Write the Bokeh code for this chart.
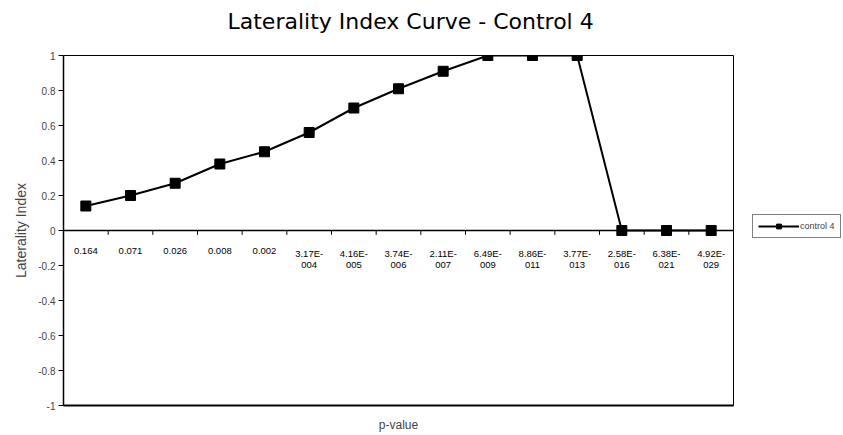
from bokeh.plotting import figure
from bokeh.models import (ColumnDataSource, FixedTicker, Range1d, Legend, LegendItem, Span, Title)
from bokeh.core.properties import value
from bokeh.embed import file_html
from bokeh.resources import INLINE

# ---- data ----
p_values = ["0.164", "0.071", "0.026", "0.008", "0.002",
            "3.17E-\n004", "4.16E-\n005", "3.74E-\n006", "2.11E-\n007", "6.49E-\n009",
            "8.86E-\n011", "3.77E-\n013", "2.58E-\n016", "6.38E-\n021", "4.92E-\n029"]
laterality = [0.14, 0.2, 0.27, 0.38, 0.45, 0.56, 0.7, 0.81, 0.91, 1.0, 1.0, 1.0, 0.0, 0.0, 0.0]
y_ticks = [-1, -0.8, -0.6, -0.4, -0.2, 0, 0.2, 0.4, 0.6, 0.8, 1]
y_tick_labels = ["-1", "-0.8", "-0.6", "-0.4", "-0.2", "0", "0.2", "0.4", "0.6", "0.8", "1"]
series_name = "control 4"
chart_title = "Laterality Index Curve - Control 4"

n = len(p_values)
xs = list(range(n))
src = ColumnDataSource(dict(x=xs, y=laterality, lab=p_values, zero=[0] * n))
bounds = [i - 0.5 for i in range(1, n)]
tick_src = ColumnDataSource(dict(x=bounds, y0=[0] * len(bounds), y1=[-0.025] * len(bounds)))

p = figure(frame_width=670, frame_height=350, output_backend="svg", toolbar_location=None,
           title=None,
           x_range=Range1d(-0.5, n - 0.5), y_range=Range1d(-1, 1),
           min_border_left=63, min_border_right=110, min_border_top=55, min_border_bottom=30)

# spacer panel between the frame and the title
p.add_layout(Title(text=" ", text_font_size="10px", standoff=9, text_color="white"), "above")
p.add_layout(Title(text=chart_title, text_font="DejaVu Sans", text_font_size="22px",
                   text_font_style="normal", align="left", offset=164, standoff=0,
                   text_color="black"), "above")

p.grid.visible = False
p.outline_line_color = "black"
p.outline_line_width = 1
p.background_fill_color = "white"

# y axis
p.yaxis.ticker = FixedTicker(ticks=y_ticks)
p.yaxis.major_label_overrides = {t: l for t, l in zip(y_ticks, y_tick_labels)}
p.yaxis.minor_tick_line_color = None
p.yaxis.major_tick_in = 0
p.yaxis.major_tick_out = 5
p.yaxis.major_label_text_font = "Liberation Sans"
p.yaxis.major_label_text_font_size = "10px"
p.yaxis.major_label_standoff = 3
p.yaxis.axis_label = "Laterality Index"
p.yaxis.axis_label_text_font = "Liberation Sans"
p.yaxis.axis_label_text_font_size = "14px"
p.yaxis.axis_label_text_font_style = "normal"
p.yaxis.axis_label_standoff = 6
p.yaxis.axis_line_color = "black"
p.yaxis.axis_line_width = 1.5

# x axis: only its title
p.xaxis.ticker = FixedTicker(ticks=[])
p.xaxis.minor_tick_line_color = None
p.xaxis.major_label_text_font_size = "0px"
p.xaxis.axis_label = "p-value"
p.xaxis.axis_label_text_font = "Liberation Sans"
p.xaxis.axis_label_text_font_size = "12px"
p.xaxis.axis_label_text_font_style = "normal"
p.xaxis.axis_label_standoff = 12
p.xaxis.axis_line_color = "black"
p.xaxis.axis_line_width = 2

# zero line, category ticks and labels
p.add_layout(Span(location=0, dimension="width", line_color="black", line_width=1.5))
p.segment(x0="x", y0="y0", x1="x", y1="y1", source=tick_src, line_color="black", line_width=1)
p.text(x="x", y="zero", text="lab", source=src, text_font=value("Liberation Sans"),
       text_font_size="9.5px", text_align="center", text_baseline="top",
       y_offset=17, text_line_height=1.05, text_color="black")

# series
r_line = p.line(x="x", y="y", source=src, line_color="black", line_width=2)
r_pts = p.scatter(x="x", y="y", source=src, marker="square", size=10,
                  fill_color="black", line_color="black")

legend = Legend(items=[LegendItem(label=series_name, renderers=[r_line, r_pts])],
                location=(19, 167), border_line_color="black", border_line_width=1,
                label_text_font="Liberation Sans", label_text_font_size="9px",
                glyph_width=41, glyph_height=12, label_height=10, label_standoff=1,
                padding=5, margin=0, spacing=0, background_fill_alpha=1)
p.add_layout(legend, "right")

open("out.html", "w").write(file_html(p, INLINE))
